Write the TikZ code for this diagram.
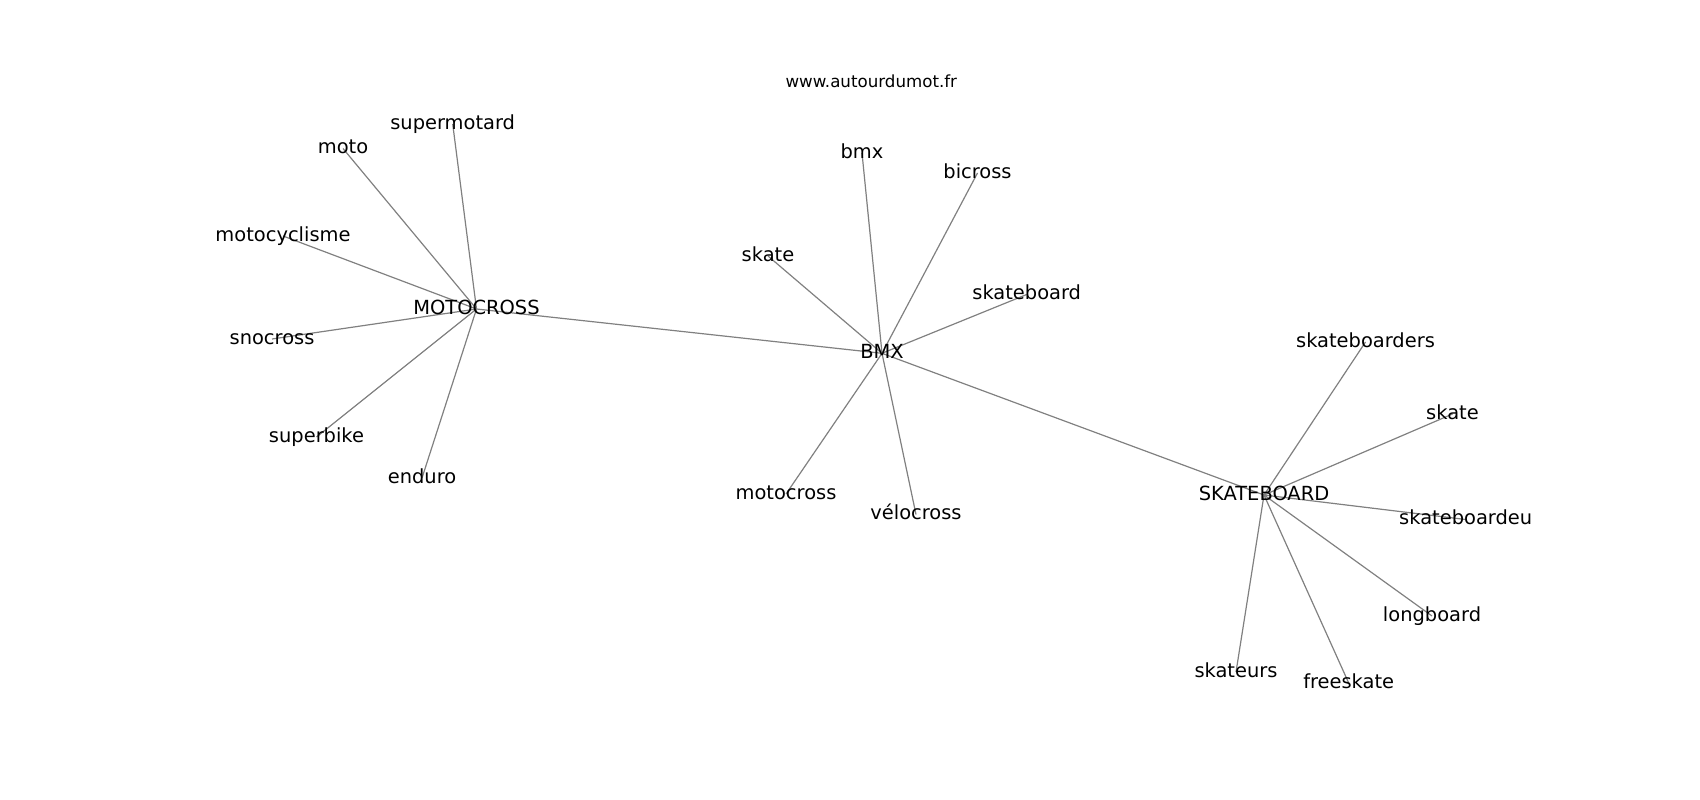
\documentclass[tikz,border=0pt]{standalone}
\usepackage{fontspec}
\setmainfont{DejaVu Sans}
\usetikzlibrary{backgrounds}

\begin{document}
\begin{tikzpicture}[%
    x=1pt,
    y=-1pt,
    word/.style={%
      inner sep=0pt,
      text height=14.77pt,
      text depth=4.04pt,
      font=\fontsize{19.44}{23}\selectfont
    },
    site/.style={%
      inner sep=0pt,
      text height=12.67pt,
      text depth=3.47pt,
      font=\fontsize{16.67}{20}\selectfont
    },
    link/.style={%
      draw=gray,
      line width=1.2pt
    }
  ]
    \useasboundingbox (0,0) rectangle (1700,800);
    \node[site] (url) at (871.3,83.3) {www.autourdumot.fr};

    % MOTOCROSS
    \node[word] (MOTOCROSS)     at (476.5,309)  {MOTOCROSS};
    \node[word] (supermotard)   at (452.7,124)  {supermotard};
    \node[word] (moto)          at (343,148.5)  {moto};
    \node[word] (motocyclisme)  at (283,236)    {motocyclisme};
    \node[word] (snocross)      at (272,339)    {snocross};
    \node[word] (superbike)     at (316.5,437)  {superbike};
    \node[word] (enduro)        at (422,478)    {enduro};

    % BMX
    \node[word] (BMX)           at (882,353.3)  {BMX};
    \node[word] (bmx)           at (862,153)    {bmx};
    \node[word] (bicross)       at (977.5,173)  {bicross};
    \node[word] (skate1)        at (768,256)    {skate};
    \node[word] (skateboard)    at (1026.7,294.5) {skateboard};
    \node[word] (motocross)     at (786,494)    {motocross};
    \node[word] (velocross)     at (916,514.5)  {vélocross};

    % SKATEBOARD
    \node[word] (SKATEBOARD)    at (1264,495)   {SKATEBOARD};
    \node[word] (skateboarders) at (1365.5,342) {skateboarders};
    \node[word] (skate2)        at (1452.5,414) {skate};
    \node[word] (skateboardeu)  at (1465.7,519.5) {skateboardeu};
    \node[word] (longboard)     at (1432,616)   {longboard};
    \node[word] (skateurs)      at (1236,672)   {skateurs};
    \node[word] (freeskate)     at (1348.7,683) {freeskate};

    \begin{scope}[on background layer={every edge/.style={link}}]
      \path (MOTOCROSS.center) edge (supermotard.center)
            (MOTOCROSS.center) edge (moto.center)
            (MOTOCROSS.center) edge (motocyclisme.center)
            (MOTOCROSS.center) edge (snocross.center)
            (MOTOCROSS.center) edge (superbike.center)
            (MOTOCROSS.center) edge (enduro.center)
            (MOTOCROSS.center) edge (BMX.center)
            (BMX.center) edge (bmx.center)
            (BMX.center) edge (bicross.center)
            (BMX.center) edge (skate1.center)
            (BMX.center) edge (skateboard.center)
            (BMX.center) edge (motocross.center)
            (BMX.center) edge (velocross.center)
            (BMX.center) edge (SKATEBOARD.center)
            (SKATEBOARD.center) edge (skateboarders.center)
            (SKATEBOARD.center) edge (skate2.center)
            (SKATEBOARD.center) edge (skateboardeu.center)
            (SKATEBOARD.center) edge (longboard.center)
            (SKATEBOARD.center) edge (skateurs.center)
            (SKATEBOARD.center) edge (freeskate.center)
            ;
    \end{scope}
\end{tikzpicture}
\end{document}
